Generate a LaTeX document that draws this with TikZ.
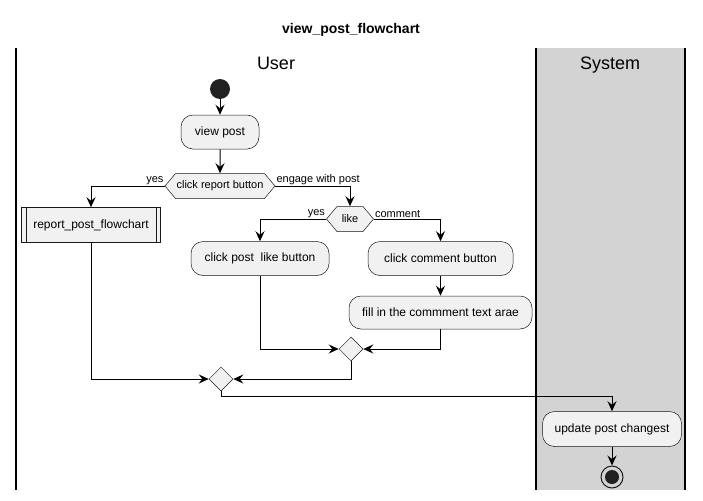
\documentclass[tikz,border=0pt]{standalone}
\usepackage{fontspec}
\setmainfont{Liberation Sans}
\usetikzlibrary{arrows.meta,shapes.geometric,shapes.symbols}

\definecolor{hopnen}{HTML}{F1F1F1}
\definecolor{vien}{HTML}{181818}
\definecolor{lannen}{HTML}{D3D3D3}

\tikzset{
  hoatdong/.style={draw=vien, line width=0.5pt, fill=hopnen, rounded corners=12pt,
    minimum height=34pt, inner sep=0pt, font=\fontsize{12}{14}\selectfont},
  quyetdinh/.style={signal, signal to=west and east, signal pointer angle=100,
    draw=vien, line width=0.5pt, fill=hopnen, minimum height=25pt, inner sep=0pt,
    font=\fontsize{11}{13}\selectfont},
  hopnhanh/.style={diamond, draw=vien, line width=0.5pt, fill=hopnen,
    minimum size=24pt, inner sep=0pt},
  nhan/.style={font=\fontsize{11}{13}\selectfont, inner sep=1pt},
  muiten/.style={-{Stealth[length=10pt,width=9pt,inset=3.5pt]}, line width=1pt},
}

\begin{document}
\begin{tikzpicture}[x=1pt, y=-1pt]
    \useasboundingbox (0,0) rectangle (703,500);

    % Vẽ làn System và các đường chia làn
    \fill[lannen] (536,48) rectangle (685,490);
    \draw[line width=1.5pt] (16,48) -- (16,490);
    \draw[line width=1.5pt] (536,48) -- (536,490);
    \draw[line width=1.5pt] (685,48) -- (685,490);

    % Tiêu đề
    \node[font=\bfseries\fontsize{14}{16}\selectfont] (tieude) at (351,30) {view\_post\_flowchart};
    \node[font=\fontsize{18}{20}\selectfont, anchor=base] (user) at (276,70) {User};
    \node[font=\fontsize{18}{20}\selectfont, anchor=base] (system) at (610,70) {System};

    % Các nút hoạt động
    \node[circle, fill=black!87, minimum size=20pt, inner sep=0pt] (batdau) at (220,89) {};
    \node[hoatdong, minimum width=78pt] (xem) at (220,132) {view post};
    \node[quyetdinh, minimum width=110pt] (baocao) at (220,186) {click report button};
    \node[draw=vien, line width=0.5pt, fill=hopnen, minimum width=139pt, minimum height=35pt,
      inner sep=0pt, font=\fontsize{12}{14}\selectfont] (rp) at (91,225) {report\_post\_flowchart};
    \draw[vien, line width=0.5pt] ([xshift=5pt]rp.north west) -- ([xshift=5pt]rp.south west);
    \draw[vien, line width=0.5pt] ([xshift=-5pt]rp.north east) -- ([xshift=-5pt]rp.south east);
    \node[quyetdinh, minimum width=47pt] (thich) at (350,219) {like};
    \node[hoatdong, minimum width=138pt] (nutthich) at (260,258.5) {click post~ like button};
    \node[hoatdong, minimum width=145pt] (nutbl) at (440.5,258.5) {click comment button};
    \node[hoatdong, minimum width=183pt, minimum height=33pt] (dien) at (440.5,312.5) {fill in the commment text arae};
    \node[hopnhanh] (hop1) at (351,349) {};
    \node[hopnhanh] (hop2) at (221,379) {};
    \node[hoatdong, minimum width=139pt, minimum height=35pt] (capnhat) at (612,429) {update post changest};
    \node[circle, draw=vien, line width=1pt, minimum size=22pt, inner sep=0pt] (ketthuc) at (612,477) {};
    \fill[black!87] (ketthuc) circle (7pt);

    % Các mũi tên
    \draw[muiten] (batdau) -- (xem);
    \draw[muiten] (xem) -- (baocao);
    \draw[muiten] (baocao.west) -| (rp.north);
    \draw[muiten] (baocao.east) -| (thich.north);
    \draw[muiten] (thich.west) -| (nutthich.north);
    \draw[muiten] (thich.east) -| (nutbl.north);
    \draw[muiten] (nutbl) -- (dien);
    \draw[muiten] (nutthich.south) |- (hop1.west);
    \draw[muiten] (dien.south) |- (hop1.east);
    \draw[muiten] (rp.south) |- (hop2.west);
    \draw[muiten] (hop1.south) |- (hop2.east);
    \draw[muiten] (hop2.south) -- ++(0,5) -| (capnhat.north);
    \draw[muiten] (capnhat) -- (ketthuc);

    % Nhãn trên mũi tên
    \node[nhan, anchor=south east] (yes1) at (baocao.west) {yes};
    \node[nhan, anchor=south west] (engage) at (baocao.east) {engage with post};
    \node[nhan, anchor=south east] (yes2) at (thich.west) {yes};
    \node[nhan, anchor=south west] (comment) at (thich.east) {comment};
\end{tikzpicture}
\end{document}
